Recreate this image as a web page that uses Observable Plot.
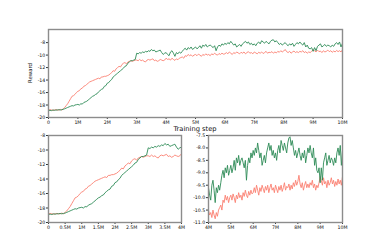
<!DOCTYPE html>
<html><head><meta charset="utf-8">
<script src="https://cdn.jsdelivr.net/npm/d3@7"></script>
<script src="https://cdn.jsdelivr.net/npm/@observablehq/plot@0.6"></script>
<style>
body{margin:0;background:#fff}
#c{position:relative;width:380px;height:250px;font-family:"DejaVu Sans",sans-serif;overflow:hidden}
#c>svg{position:absolute}
.lbl{position:absolute;color:#111;white-space:nowrap}
</style>
</head><body><div id="c"></div>
<script>
// training step spacing between logged points
const stepSize = 50000;

// salmon series (reward per logged step, 0..10M)
const salmonReward = [
-18.8,-18.75,-18.8,-18.85,-18.8,-18.75,-18.8,-18.8,-18.7,-18.8,
-18.6,-18.4,-18.1,-17.8,-17.4,-17.0,-16.6,-16.5,-16.3,-16.0,
-15.8,-15.7,-15.4,-15.3,-15.0,-14.9,-14.7,-14.5,-14.3,-14.2,
-14.1,-14.0,-13.9,-13.8,-13.7,-13.8,-13.5,-13.5,-13.4,-13.4,
-13.3,-13.2,-13.0,-12.8,-12.5,-12.6,-12.2,-12.0,-11.8,-11.9,
-11.5,-11.3,-11.2,-11.4,-11.1,-11.0,-10.9,-11.0,-10.9,-10.8,
-10.8,-10.9,-10.7,-10.9,-10.8,-11.0,-11.1,-10.8,-10.7,-10.8,
-10.7,-10.6,-10.9,-10.8,-11.0,-10.9,-10.7,-10.8,-10.9,-10.8,
-10.5,
-10.7,-10.6,-10.8,-10.5,-10.7,-10.85,-10.6,-10.75,-10.5,-10.4,
-10.3,-10.5,-10.1,-10.2,-9.9,-10.1,-9.95,-10.2,-10.0,-9.9,
-10.1,-9.85,-10.0,-10.2,-9.9,-10.05,-9.8,-10.0,-9.9,-10.1,
-9.8,-9.95,-9.7,-9.9,-10.0,-9.75,-9.9,-9.7,-9.85,-9.8,
-9.6,-9.8,-9.5,-9.7,-9.9,-9.6,-9.75,-9.5,-9.65,-9.8,
-9.55,-9.7,-9.5,-9.8,-9.6,-9.45,-9.7,-9.6,-9.8,-9.5,
-9.65,-9.8,-9.55,-9.7,-9.5,-9.75,-9.6,-9.4,-9.7,-9.55,
-9.6,-9.45,-9.7,-9.5,-9.65,-9.4,-9.55,-9.3,-9.5,-9.35,
-9.1,-9.45,-9.6,-9.4,-9.7,-9.5,-9.35,-9.6,-9.45,-9.6,
-9.4,-9.5,-9.3,-9.6,-9.45,-9.7,-9.5,-9.6,-9.4,-9.15,
-9.3,-9.5,-9.2,-9.45,-9.35,-9.6,-9.3,-9.5,-9.4,-9.2,
-9.45,-9.3,-9.55,-9.35,-9.5,-9.25,-9.45,-9.3,-9.5,-9.15
];

// green series (reward per logged step, 0..10M)
const greenReward = [
-18.9,-18.85,-18.9,-18.8,-18.85,-18.8,-18.8,-18.75,-18.8,-18.75,
-18.7,-18.6,-18.5,-18.4,-18.3,-18.2,-18.1,-18.15,-18.0,-17.95,
-17.9,-18.0,-17.8,-17.85,-17.6,-17.5,-17.4,-17.2,-17.0,-16.8,
-16.6,-16.5,-16.3,-16.2,-15.9,-15.7,-15.5,-15.4,-15.0,-14.9,
-14.5,-14.4,-14.1,-13.9,-13.5,-13.3,-13.1,-12.9,-12.7,-12.5,
-12.3,-12.1,-11.8,-11.7,-11.3,-11.1,-10.9,-10.9,-10.8,-10.7,
-9.7,-9.8,-9.6,-9.7,-9.5,-9.6,-9.4,-9.5,-9.3,-9.4,
-9.1,-9.3,-9.2,-9.5,-9.4,-9.3,-9.2,-9.6,-9.9,-9.7,
-9.6,
-9.9,-10.1,-9.5,-9.3,-9.7,-10.2,-9.6,-9.8,-9.5,-9.7,
-9.4,-9.1,-8.9,-9.2,-8.8,-9.0,-8.7,-9.1,-8.9,-8.7,
-9.0,-8.8,-8.5,-8.9,-8.4,-8.6,-8.3,-8.7,-8.5,-8.4,
-8.6,-8.8,-8.5,-9.3,-8.7,-8.4,-8.6,-8.2,-8.4,-8.1,
-8.3,-8.0,-8.2,-7.8,-8.1,-8.4,-8.2,-8.7,-8.5,-8.3,
-8.6,-8.2,-8.0,-7.8,-8.1,-7.9,-8.3,-8.1,-8.4,-8.2,
-8.5,-8.1,-7.9,-8.2,-7.7,-7.9,-8.1,-7.8,-8.0,-8.2,
-7.8,-7.6,-7.55,-7.9,-7.7,-8.0,-8.3,-8.1,-8.4,-8.2,
-8.0,-8.3,-8.5,-8.2,-8.4,-8.1,-8.6,-8.3,-8.0,-8.2,
-7.9,-8.2,-8.4,-8.0,-8.7,-8.4,-8.9,-9.0,-8.8,-9.4,
-8.8,-9.3,-8.6,-8.4,-8.2,-8.7,-8.5,-8.3,-8.6,-8.4,
-8.5,-8.7,-8.4,-8.6,-8.2,-8.0,-8.3,-7.9,-8.7,-8.1
];

// tick values and labels
const topXTicks = [0,1e6,2e6,3e6,4e6,5e6,6e6,7e6,8e6,9e6,1e7];
const topXLabels = ["0","1M","2M","3M","4M","5M","6M","7M","8M","9M","10M"];
const topYTicks = [-8,-10,-12,-14,-16,-18,-20];
const topYLabels = ["-8","-10","-12","-14","-16","-18","-20"];
const blXTicks = [0,5e5,1e6,1.5e6,2e6,2.5e6,3e6,3.5e6,4e6];
const blXLabels = ["0","0.5M","1M","1.5M","2M","2.5M","3M","3.5M","4M"];
const blYTicks = [-8,-10,-12,-14,-16,-18,-20];
const blYLabels = topYLabels;
const brXTicks = [4e6,5e6,6e6,7e6,8e6,9e6,1e7];
const brXLabels = ["4M","5M","6M","7M","8M","9M","10M"];
const brYTicks = [-7.5,-8,-8.5,-9,-9.5,-10,-10.5,-11];
const brYLabels = ["-7.5","-8.0","-8.5","-9.0","-9.5","-10.0","-10.5","-11.0"];
const xTitle = "Training step";
const yTitle = "Reward";

const salmonRows = salmonReward.map((v,i)=>({step:i*stepSize, reward:v}));
const greenRows = greenReward.map((v,i)=>({step:i*stepSize, reward:v}));

const SALMON = "#fa8072", GREEN = "#2e8b57", FRAME = "#8c8c8c";

function panel(o){
  const inX = d => d.step >= o.xDomain[0] && d.step <= o.xDomain[1];
  const fmt = (ticks, labels) => { const m = new Map(ticks.map((t,i)=>[t,labels[i]])); return d => m.get(d); };
  const p = Plot.plot({
    width:o.width, height:o.height,
    marginLeft:o.ml, marginRight:o.mr, marginTop:o.mt, marginBottom:o.mb,
    style:{fontFamily:"DejaVu Sans, sans-serif", fontSize:"4.7px", background:"transparent", overflow:"visible", color:"#111"},
    x:{domain:o.xDomain},
    y:{domain:o.yDomain},
    marks:[
      Plot.line(salmonRows.filter(inX), {x:"step", y:"reward", stroke:SALMON, strokeWidth:0.9, clip:true}),
      Plot.line(greenRows.filter(inX), {x:"step", y:"reward", stroke:GREEN, strokeWidth:0.9, clip:true}),
      Plot.axisX(o.xTicks, {tickSize:2, tickPadding:1.2, tickFormat:fmt(o.xTicks,o.xLabels), label:null, stroke:"#333"}),
      Plot.axisY(o.yTicks, {tickSize:2, tickPadding:1.2, tickFormat:fmt(o.yTicks,o.yLabels), label:null, stroke:"#333"}),
      Plot.frame({stroke:FRAME, strokeWidth:1.4})
    ]
  });
  p.style.left = o.left+"px"; p.style.top = o.top+"px";
  return p;
}

const c = document.getElementById("c");
c.appendChild(panel({left:0, top:0, width:380, height:130, ml:48, mr:38, mt:29, mb:13,
  xDomain:[0,1e7], yDomain:[-20,-5.9], xTicks:topXTicks, xLabels:topXLabels, yTicks:topYTicks, yLabels:topYLabels}));
c.appendChild(panel({left:0, top:130, width:185, height:120, ml:48, mr:4, mt:5, mb:28,
  xDomain:[0,4e6], yDomain:[-20,-8], xTicks:blXTicks, xLabels:blXLabels, yTicks:blYTicks, yLabels:blYLabels}));
c.appendChild(panel({left:185, top:130, width:195, height:120, ml:23, mr:38, mt:5, mb:28,
  xDomain:[4e6,1e7], yDomain:[-11,-7.5], xTicks:brXTicks, xLabels:brXLabels, yTicks:brYTicks, yLabels:brYLabels}));

const xl = document.createElement("div");
xl.className = "lbl"; xl.textContent = xTitle;
Object.assign(xl.style,{left:"195px", top:"128.6px", fontSize:"6.7px", lineHeight:"6.7px", transform:"translate(-50%,-50%)"});
c.appendChild(xl);
const yl = document.createElement("div");
yl.className = "lbl"; yl.textContent = yTitle;
Object.assign(yl.style,{left:"31px", top:"73px", fontSize:"5.4px", lineHeight:"5.4px", transform:"translate(-50%,-50%) rotate(-90deg)"});
c.appendChild(yl);
</script>
</body></html>
